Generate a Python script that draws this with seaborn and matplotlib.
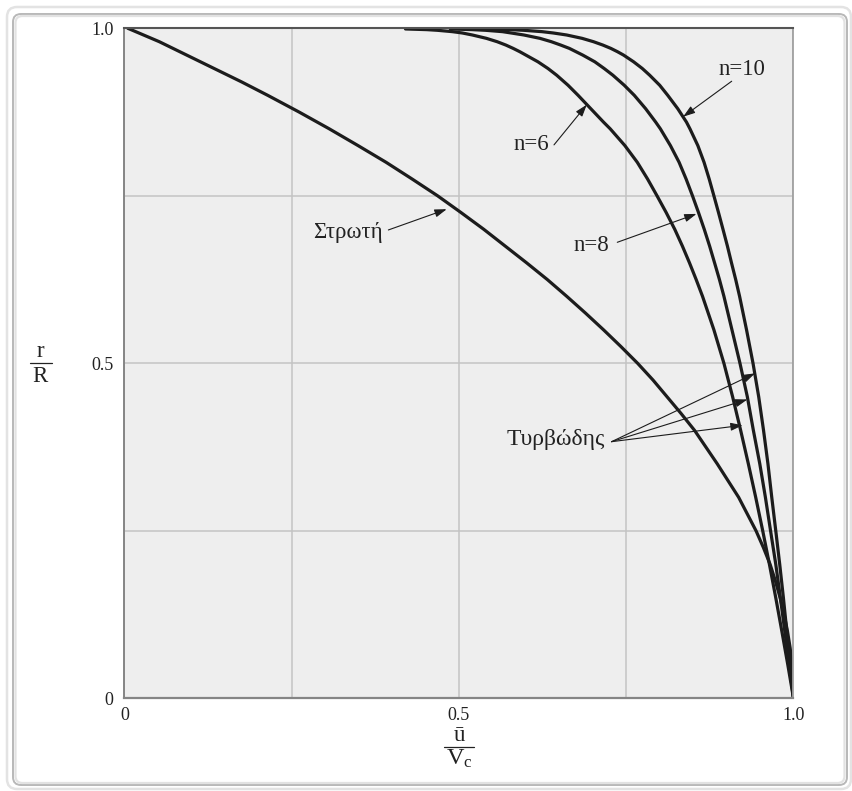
import matplotlib
matplotlib.use("Agg")
import matplotlib.pyplot as plt
import matplotlib.transforms as mtransforms
from matplotlib.patches import FancyBboxPatch
from matplotlib.lines import Line2D
import pandas as pd
import seaborn as sns

# ---------------- data ----------------
# laminar profile: radius ratio r/R and velocity ratio u/Vc
R_LAM = [1.0, 0.98, 0.96, 0.94, 0.92, 0.90, 0.875, 0.85, 0.825, 0.80, 0.775,
         0.75, 0.725, 0.70, 0.675, 0.65, 0.625, 0.60, 0.575, 0.55, 0.525,
         0.50, 0.475, 0.45, 0.425, 0.40, 0.375, 0.35, 0.325, 0.30, 0.275,
         0.25, 0.225, 0.20, 0.175, 0.15, 0.125, 0.10, 0.075, 0.05, 0.025, 0.0]
U_LAM = [0.005, 0.052, 0.093, 0.134, 0.175, 0.214, 0.261, 0.306, 0.349, 0.391,
         0.430, 0.468, 0.503, 0.537, 0.569, 0.601, 0.632, 0.661, 0.689, 0.716,
         0.742, 0.767, 0.790, 0.811, 0.832, 0.852, 0.869, 0.886, 0.902, 0.918,
         0.931, 0.944, 0.955, 0.965, 0.973, 0.980, 0.986, 0.991, 0.995, 0.998,
         0.9995, 1.0]

# turbulent profiles, common radius samples
R_TURB = [0.0, 0.05, 0.1, 0.15, 0.2, 0.25, 0.3, 0.35, 0.4, 0.45, 0.5, 0.55,
          0.6, 0.625, 0.65, 0.675, 0.7, 0.725, 0.75, 0.775, 0.8, 0.825, 0.85,
          0.86, 0.88, 0.9, 0.915, 0.93, 0.94, 0.95, 0.96, 0.965, 0.97, 0.975,
          0.98, 0.985, 0.99, 0.993, 0.995, 0.997, 0.998, 0.999]
U_N6 = [1.0, 0.9915, 0.9826, 0.9735, 0.9640, 0.9540, 0.9435, 0.9325, 0.9210,
        0.9090, 0.8960, 0.8810, 0.8640, 0.8545, 0.8445, 0.8339, 0.8225, 0.8097,
        0.7960, 0.7819, 0.7665, 0.7479, 0.7260,
        0.716, 0.697, 0.678, 0.663, 0.646, 0.633, 0.618, 0.600, 0.591, 0.581,
        0.570, 0.557, 0.541, 0.520, 0.505, 0.490, 0.468, 0.452, 0.420]
U_N8 = [1.0, 0.9936, 0.9870, 0.9804, 0.9735, 0.9657, 0.9580, 0.9496, 0.9400,
        0.9310, 0.9200, 0.9080, 0.8960, 0.8893, 0.8820, 0.8746, 0.8666, 0.8580,
        0.8490, 0.8395, 0.8290, 0.8160, 0.8010,
        0.794, 0.779, 0.762, 0.747, 0.730, 0.717, 0.703, 0.685, 0.675, 0.665,
        0.652, 0.638, 0.621, 0.597, 0.578, 0.565, 0.540, 0.520, 0.487]
U_N10 = [1.0, 0.9949, 0.9900, 0.9849, 0.9794, 0.9735, 0.9675, 0.9618, 0.9552,
         0.9480, 0.9395, 0.9298, 0.9194, 0.9136, 0.9073, 0.9012, 0.8946, 0.8879,
         0.8810, 0.8740, 0.8663, 0.8570, 0.8452,
         0.840, 0.827, 0.812, 0.800, 0.785, 0.774, 0.761, 0.746, 0.737, 0.727,
         0.715, 0.701, 0.684, 0.661, 0.641, 0.624, 0.597, 0.577, 0.541]

TICKS = [0.0, 0.5, 1.0]
TICK_LABELS = ["0", "0.5", "1.0"]
GRID = [0.25, 0.75]

LBL_N10 = "n=10"
LBL_N6 = "n=6"
LBL_N8 = "n=8"
LBL_LAM = "Στρωτή"
LBL_TURB = "Τυρβώδης"

# ---------------- style ----------------
sns.set_theme(style="white")
plt.rcParams["font.family"] = ["Liberation Serif", "DejaVu Serif"]
plt.rcParams["mathtext.fontset"] = "custom"
plt.rcParams["mathtext.rm"] = "Liberation Serif"
plt.rcParams["mathtext.it"] = "Liberation Serif:italic"

W, H = 853, 791
fig = plt.figure(figsize=(W / 100, H / 100), dpi=100)
fig.patch.set_facecolor("white")

# card frame
ident = mtransforms.IdentityTransform()
outer = FancyBboxPatch((7, H - 789), 844, 782,
                       boxstyle="round,pad=0,rounding_size=10",
                       transform=ident, fill=False, ec="#e3e3e3", lw=1.8)
inner = FancyBboxPatch((13, H - 785), 834, 771,
                       boxstyle="round,pad=0,rounding_size=8",
                       transform=ident, fill=False, ec="#b8b8b8", lw=1.4)
shadow = FancyBboxPatch((15.5, H - 783), 829, 767,
                        boxstyle="round,pad=0,rounding_size=7",
                        transform=ident, fill=False, ec="#e2e2e2", lw=1.6)
for p in (outer, inner, shadow):
    fig.patches.append(p)

ax = fig.add_axes([124.5 / W, (H - 698.3) / H, 669 / W, 670 / H])
ax.set_facecolor("#eeeeee")

frames = [
    pd.DataFrame({"u": U_LAM, "r": R_LAM, "curve": "lam"}),
    pd.DataFrame({"u": U_N6, "r": R_TURB, "curve": "n6"}),
    pd.DataFrame({"u": U_N8, "r": R_TURB, "curve": "n8"}),
    pd.DataFrame({"u": U_N10, "r": R_TURB, "curve": "n10"}),
]
df = pd.concat(frames, ignore_index=True)

sns.lineplot(data=df, x="u", y="r", units="curve", estimator=None, sort=False,
             color="#1c1c1c", lw=2.3, ax=ax, legend=False, zorder=3)
for ln in ax.get_lines():
    ln.set_solid_joinstyle("round")

ax.set_xlim(0, 1)
ax.set_ylim(0, 1)
ax.set_xticks(TICKS)
ax.set_xticklabels(TICK_LABELS)
ax.set_yticks(TICKS)
ax.set_yticklabels(TICK_LABELS)
ax.set_xticks(GRID, minor=True)
ax.set_yticks(GRID, minor=True)
ax.grid(True, which="both", color="#c3c3c3", lw=1.1, zorder=0)
ax.set_axisbelow(True)
ax.tick_params(axis="both", which="both", length=0, labelsize=13,
               colors="#222222")
ax.tick_params(axis="y", pad=8)
ax.tick_params(axis="x", pad=6)
ax.set_xlabel("")
ax.set_ylabel("")

for side, col, lw in (("top", "#555555", 1.5), ("left", "#858585", 1.4),
                      ("bottom", "#858585", 1.6), ("right", "#a0a0a0", 1.3)):
    ax.spines[side].set_color(col)
    ax.spines[side].set_linewidth(lw)
    ax.spines[side].set_visible(True)
    ax.spines[side].set_zorder(4)

# axis labels as stacked fractions
tc = "#222222"
ax.text(0.5, -0.0548, "ū", transform=ax.transAxes, ha="center", va="center",
        fontsize=16.5, color=tc)
ax.add_line(Line2D([0.4776, 0.5224], [-0.0722, -0.0722], transform=ax.transAxes,
                   color=tc, lw=0.9, clip_on=False))
ax.text(0.5, -0.0905, r"V$_{\mathrm{c}}$", transform=ax.transAxes, ha="center",
        va="center", fontsize=17.5, color=tc)

ax.text(-0.1263, 0.518, "r", transform=ax.transAxes, ha="center", va="center",
        fontsize=16.5, color=tc)
ax.add_line(Line2D([-0.1420, -0.1091], [0.5005, 0.5005], transform=ax.transAxes,
                   color=tc, lw=0.9, clip_on=False))
ax.text(-0.1263, 0.481, "R", transform=ax.transAxes, ha="center", va="center",
        fontsize=16.5, color=tc)

# annotations
fs = 16.5
ax.text(0.923, 0.939, LBL_N10, ha="center", va="center", fontsize=fs, color=tc)
ax.text(0.6076, 0.827, LBL_N6, ha="center", va="center", fontsize=fs, color=tc)
ax.text(0.698, 0.676, LBL_N8, ha="center", va="center", fontsize=fs, color=tc)
ax.text(0.3333, 0.6945, LBL_LAM, ha="center", va="center", fontsize=fs, color=tc)
ax.text(0.645, 0.386, LBL_TURB, ha="center", va="center", fontsize=17, color=tc)

aprops = dict(arrowstyle="-|>,head_length=0.6,head_width=0.2", color="#1c1c1c",
              lw=0.8, shrinkA=0, shrinkB=0, mutation_scale=12)
arrows = [((0.9076, 0.921), (0.835, 0.868)),
          ((0.642, 0.826), (0.691, 0.886)),
          ((0.7366, 0.6806), (0.855, 0.723)),
          ((0.3944, 0.699), (0.4816, 0.730)),
          ((0.728, 0.383), (0.9425, 0.485)),
          ((0.728, 0.383), (0.931, 0.446)),
          ((0.728, 0.383), (0.924, 0.4075))]
for start, tip in arrows:
    ax.annotate("", xy=tip, xytext=start, arrowprops=aprops, zorder=5)

fig.savefig("out.png", dpi=100)
